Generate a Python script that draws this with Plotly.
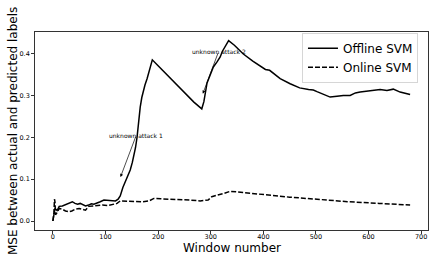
import plotly.graph_objects as go

# Offline SVM (solid)
offline_x = [0, 2, 4, 8, 12, 18, 25, 32, 37, 42, 47, 52, 57, 62, 68, 73, 78, 84, 90, 97,
             105, 112, 119, 124, 128, 133, 138, 143, 147, 151, 154, 157, 160, 163, 166,
             169, 172, 175, 179, 182, 185, 189, 200, 215, 233, 250, 268, 283, 287, 293,
             299, 305, 312, 318, 322, 328, 334, 345, 362, 380, 395, 404, 412, 420, 432,
             451, 469, 486, 495, 502, 515, 527, 540, 552, 565, 575, 584, 600, 612, 622,
             635, 647, 660, 670, 679]
offline_y = [0.0, 0.02, 0.03, 0.025, 0.035, 0.036, 0.040, 0.043, 0.046, 0.042, 0.040,
             0.042, 0.038, 0.036, 0.038, 0.041, 0.040, 0.044, 0.046, 0.050, 0.049, 0.048,
             0.048, 0.052, 0.060, 0.080, 0.096, 0.108, 0.122, 0.140, 0.155, 0.175, 0.200,
             0.240, 0.272, 0.295, 0.312, 0.325, 0.340, 0.355, 0.365, 0.385, 0.371, 0.352,
             0.328, 0.306, 0.284, 0.268, 0.285, 0.330, 0.348, 0.368, 0.380, 0.392, 0.405,
             0.418, 0.431, 0.420, 0.399, 0.382, 0.370, 0.362, 0.360, 0.352, 0.340, 0.328,
             0.318, 0.314, 0.313, 0.309, 0.302, 0.296, 0.298, 0.300, 0.300, 0.306, 0.308,
             0.310, 0.313, 0.314, 0.312, 0.315, 0.308, 0.304, 0.302]

# Online SVM (dashed)
online_x = [0, 2, 3, 4, 5, 8, 12, 18, 24, 30, 36, 42, 50, 56, 62, 68, 75, 85, 94, 105,
            115, 122, 128, 140, 155, 170, 183, 192, 205, 230, 260, 280, 295, 302, 315,
            325, 337, 345, 388, 450, 502, 560, 620, 679]
online_y = [0.0, 0.02, 0.052, 0.045, 0.015, 0.02, 0.03, 0.028, 0.024, 0.022, 0.024,
            0.028, 0.030, 0.028, 0.026, 0.035, 0.036, 0.036, 0.038, 0.037, 0.040, 0.042,
            0.048, 0.047, 0.046, 0.046, 0.048, 0.054, 0.053, 0.052, 0.050, 0.048, 0.050,
            0.058, 0.062, 0.066, 0.071, 0.070, 0.064, 0.057, 0.052, 0.046, 0.042, 0.038]

x_ticks = [0, 100, 200, 300, 400, 500, 600, 700]
y_ticks = [0.0, 0.1, 0.2, 0.3, 0.4]

x_title = "Window number"
y_title = "MSE between actual and predicted labels"

# annotations: (label, head_x, head_y, text_x, text_y)
ann_labels = ["unknown attack 1", "unknown attack 2"]
ann_head = [(128.5, 0.105), (285, 0.304)]
ann_text = [(158.5, 0.205), (315, 0.405)]

FONT = "DejaVu Sans"

fig = go.Figure()
fig.add_trace(go.Scatter(x=offline_x, y=offline_y, mode="lines", name="Offline SVM",
                         line=dict(color="black", width=1.5)))
fig.add_trace(go.Scatter(x=online_x, y=online_y, mode="lines", name="Online SVM",
                         line=dict(color="black", width=1.5, dash="5px,2px")))

annotations = []
for lab, (hx, hy), (tx, ty) in zip(ann_labels, ann_head, ann_text):
    annotations.append(dict(x=hx, y=hy, ax=tx, ay=ty, xref="x", yref="y", axref="x", ayref="y",
                            text="", showarrow=True, arrowhead=2, arrowsize=0.9,
                            arrowwidth=0.7, arrowcolor="black", standoff=0))
    annotations.append(dict(x=tx, y=ty, xref="x", yref="y", text=lab, showarrow=False,
                            font=dict(family=FONT, size=6, color="black")))

# axis titles as paper annotations for precise placement
annotations.append(dict(x=0.5, y=0, xref="paper", yref="paper", xanchor="center",
                        yanchor="top", yshift=-9, text=x_title, showarrow=False,
                        font=dict(family=FONT, size=12, color="black")))
annotations.append(dict(x=0, y=0.5, xref="paper", yref="paper", xanchor="center",
                        yanchor="middle", xshift=-22.5, yshift=-0.5, text=y_title,
                        showarrow=False, textangle=-90,
                        font=dict(family=FONT, size=12, color="black")))

axis_common = dict(showline=True, linecolor="#333", linewidth=0.8, mirror=True,
                   ticks="outside", ticklen=3, tickwidth=0.8, tickcolor="#333",
                   showgrid=False, zeroline=False, automargin=False,
                   tickfont=dict(family=FONT, size=6.5, color="black"))

fig.update_layout(
    width=436, height=262,
    margin=dict(l=35, r=8, t=32, b=32),
    paper_bgcolor="white", plot_bgcolor="white",
    font=dict(family=FONT, color="black"),
    xaxis=dict(range=[-34, 713], tickvals=x_ticks, ticklabelstandoff=-3, **axis_common),
    yaxis=dict(range=[-0.0215, 0.4515], tickvals=y_ticks, tickformat=".1f", **axis_common),
    legend=dict(x=0.975, y=0.995, xanchor="right", yanchor="top",
                bgcolor="rgba(255,255,255,0.8)", bordercolor="#ccc", borderwidth=0.8,
                font=dict(family=FONT, size=12), itemwidth=30, tracegroupgap=0),
    annotations=annotations,
    showlegend=True,
)

fig.write_html("out.html", post_script="document.body.style.margin='0';",
               config={"displayModeBar": False})
